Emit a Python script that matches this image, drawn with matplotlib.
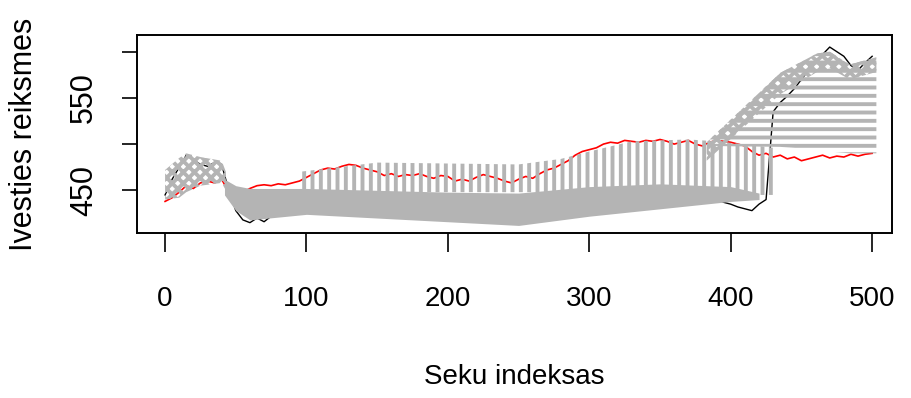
import matplotlib
matplotlib.use("Agg")
import matplotlib.pyplot as plt
import numpy as np

# observed series and one-step fitted values, every 5th index
t = np.arange(0, 505, 5)
observed = [445, 462, 475, 488, 483, 478, 476, 480, 478, 450,
            428, 418, 415, 420, 416, 422, 425, 430, 432, 435,
            438, 440, 438, 440, 437, 435, 436, 434, 437, 435,
            433, 432, 430, 428, 430, 428, 426, 425, 427, 425,
            424, 426, 427, 425, 424, 422, 420, 418, 417, 415,
            418, 420, 425, 428, 430, 432, 434, 433, 436, 438,
            437, 439, 436, 438, 440, 441, 443, 440, 442, 444,
            441, 443, 445, 446, 444, 442, 440, 438, 440, 437,
            435, 432, 430, 428, 435, 440, 535, 545, 552, 560,
            570, 580, 590, 597, 605, 600, 595, 585, 580, 588,
            595]
fitted = [438, 442, 448, 455, 452, 458, 460, 458, 462, 448,
          444, 448, 452, 455, 456, 455, 457, 456, 458, 460,
          464, 468, 472, 474, 473, 476, 478, 477, 474, 472,
          470, 466, 468, 465, 467, 466, 468, 465, 463, 466,
          465, 460, 462, 460, 464, 467, 465, 463, 460, 458,
          462, 465, 463, 468, 472, 474, 478, 482, 488, 492,
          494, 496, 500, 502, 501, 504, 503, 502, 504, 503,
          505, 503, 500, 502, 504, 500, 498, 502, 504, 503,
          502, 500, 498, 492, 488, 490, 486, 488, 484, 486,
          482, 484, 486, 488, 485, 487, 486, 489, 487, 489,
          490]

# forecast paths, drawn as grey bands
early_t = [0, 10, 15, 25, 40, 43]
early_hi = [472, 485, 490, 486, 482, 470]
early_lo = [440, 442, 448, 455, 458, 450]

band_t = [42, 50, 60, 100, 150, 200, 250, 300, 350, 400, 420]
band_hi = [462, 455, 452, 452, 450, 448, 447, 454, 457, 454, 447]
band_lo = [445, 428, 418, 424, 420, 416, 412, 422, 430, 438, 440]

bars_t = [95, 150, 250, 280, 300, 330, 370, 390, 420, 430]
bars_hi = [470, 480, 478, 484, 492, 503, 505, 503, 498, 496]
bars_lo = [448, 448, 448, 448, 450, 452, 452, 450, 445, 445]

right_t = [383, 435, 461, 470, 484, 503]
right_hi = [502, 577, 598, 600, 586, 594]
right_lo = [498, 497, 494, 492, 490, 490]
right_edge = [482, 554, 578, 582, 570, 578]

grey = "#b4b4b4"
plt.rcParams["hatch.linewidth"] = 2.8

fig = plt.figure(figsize=(9.12, 3.98), dpi=100)
ax = fig.add_axes([0.150, 0.415, 0.828, 0.497])

ax.plot(t, observed, color="black", lw=1.0, zorder=2)
ax.plot(t, fitted, color="red", lw=1.2, zorder=2)

ax.fill_between(early_t, early_lo, early_hi, facecolor="none",
                edgecolor=grey, hatch="xxx", lw=0, zorder=3)
ax.fill_between(band_t, band_lo, band_hi, facecolor=grey,
                edgecolor=grey, lw=0, zorder=3)
ax.fill_between(bars_t, bars_lo, bars_hi, facecolor="none",
                edgecolor=grey, hatch="||", lw=0, zorder=3)
ax.fill_between(right_t, right_lo, right_hi, facecolor="none",
                edgecolor=grey, hatch="--", lw=0, zorder=3)
ax.fill_between(right_t, right_edge, right_hi, facecolor="none",
                edgecolor=grey, hatch="xxx", lw=0, zorder=3)

ax.set_xlim(-20, 514)
ax.set_ylim(404, 618)
ax.set_xticks([0, 100, 200, 300, 400, 500])
ax.set_yticks([450, 500, 550, 600])
ax.set_yticklabels(["450", "", "550", ""], rotation=90, va="center",
                   family=["Liberation Sans", "DejaVu Sans"], fontsize=22)
ax.set_xticklabels(["0", "100", "200", "300", "400", "500"],
                   family=["Liberation Sans", "DejaVu Sans"], fontsize=20)
ax.tick_params(axis="x", length=14, width=1.2, pad=24)
ax.tick_params(axis="y", length=11, width=1.2, pad=16)
for s in ax.spines.values():
    s.set_linewidth(1.4)

ax.set_xlabel("Seku indeksas", fontsize=20, labelpad=38,
              family=["Liberation Sans", "DejaVu Sans"])
ax.set_ylabel("Ivesties reiksmes", fontsize=22, labelpad=22,
              family=["Liberation Sans", "DejaVu Sans"])

fig.savefig("out.png", dpi=100)
